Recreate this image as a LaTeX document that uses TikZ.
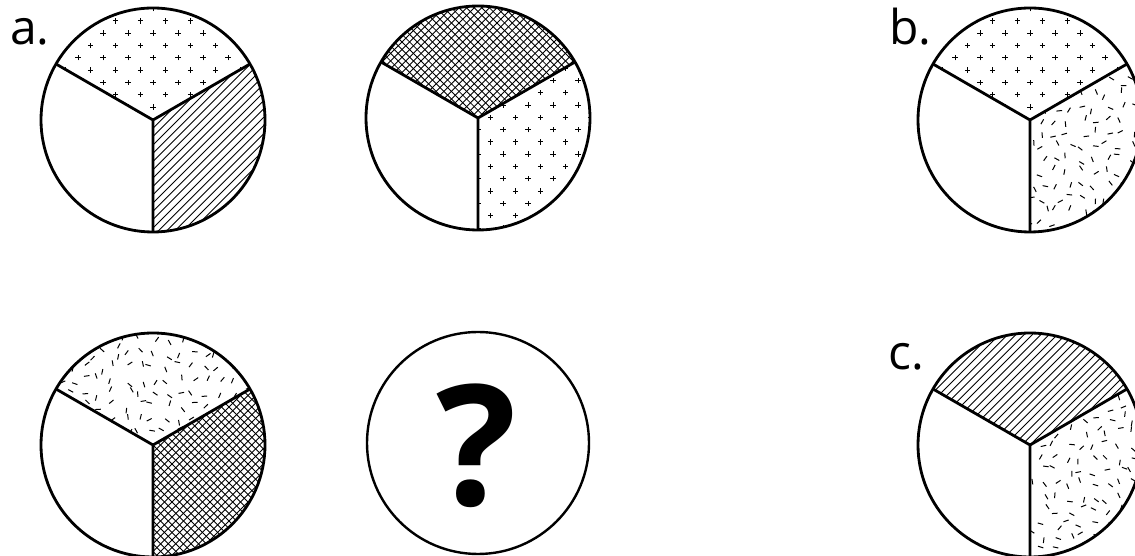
\documentclass[tikz,border=0pt]{standalone}
\usepackage{fontspec}
\setmainfont{Open Sans}
\tikzset{
  outl/.style={line width=2.1pt, line join=round},
  fine/.style={line width=0.65pt},
  lbl/.style={anchor=base west, inner sep=0pt, font=\fontsize{36}{36}\selectfont},
}
% pattern fills: #1 cx, #2 cy (clip active)
\newcommand\fnone[2]{}
\newcommand\fplus[2]{%
  \foreach \j in {-10,...,10}{%
    \foreach \i in {-6,...,6}{%
      \pgfmathsetmacro\px{#1+\i*25+mod(abs(\j),2)*12.5}%
      \pgfmathsetmacro\py{#2+13+\j*12.3}%
      \draw[fine] (\px-2.7,\py) -- (\px+2.7,\py) (\px,\py-2.7) -- (\px,\py+2.7);
    }}}
\newcommand\fhatch[2]{%
  \foreach \k in {-32,...,32}{%
    \draw[fine] ({#1+\k*8.3-120},{#2-120}) -- ++(240,240);}}
\newcommand\fcross[2]{%
  \foreach \k in {-34,...,34}{%
    \draw[fine] ({#1+\k*7.6-120},{#2-120}) -- ++(240,240);
    \draw[fine] ({#1+\k*7.6+120},{#2-120}) -- ++(-240,240);}}
\newcommand\fdash[2]{%
  \foreach \j in {-9,...,9}{%
    \foreach \i in {-9,...,9}{%
      \pgfmathsetmacro\px{#1+\i*13+rand*5}%
      \pgfmathsetmacro\py{#2+\j*13+rand*5}%
      \pgfmathsetmacro\pa{rnd*180}%
      \draw[line width=0.75pt] (\px,\py) ++(\pa:2.8) -- ++(\pa+180:5.6);
    }}}
% pie: #1 cx, #2 cy, #3 top fill, #4 left fill, #5 right fill
\newcommand\pie[5]{%
  \begin{scope}
    \clip (#1,#2) -- ++(30:112) arc[start angle=30,end angle=150,radius=112] -- cycle;
    #3{#1}{#2}
  \end{scope}
  \begin{scope}
    \clip (#1,#2) -- ++(150:112) arc[start angle=150,end angle=270,radius=112] -- cycle;
    #4{#1}{#2}
  \end{scope}
  \begin{scope}
    \clip (#1,#2) -- ++(270:112) arc[start angle=270,end angle=390,radius=112] -- cycle;
    #5{#1}{#2}
  \end{scope}
  \draw[outl] (#1,#2) circle[radius=112];
  \draw[outl] (#1,#2) -- ++(30:112) (#1,#2) -- ++(150:112) (#1,#2) -- ++(270:112);
}
\begin{document}
\begin{tikzpicture}[x=0.75pt,y=0.75pt]
\pgfmathsetseed{7}
\useasboundingbox (0,0) rectangle (1135,556);
\begin{scope}
\clip (0,0) rectangle (1135,556);
\pie{153}{436}{\fplus}{\fnone}{\fhatch}
\pie{478}{438}{\fcross}{\fnone}{\fplus}
\pie{1030}{436}{\fplus}{\fnone}{\fdash}
\pie{153}{111}{\fdash}{\fnone}{\fcross}
\pie{1030}{111}{\fhatch}{\fnone}{\fdash}
\draw[line width=1.8pt] (478,113) circle[radius=111];
\end{scope}
\node[inner sep=0pt, font=\fontsize{126}{126}\selectfont\bfseries] (q) at (477,110) {?};
\node[lbl] (la) at (10,511) {a.};
\node[lbl] (lb) at (889,511) {b.};
\node[lbl] (lc) at (888,186) {c.};
\end{tikzpicture}
\end{document}
